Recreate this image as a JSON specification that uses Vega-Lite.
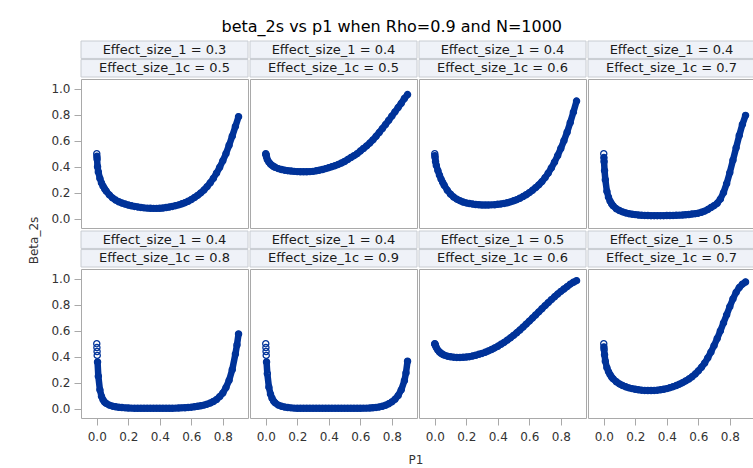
{
"$schema": "https://vega.github.io/schema/vega-lite/v6.json",
"background": "white",
"padding": {"left": 28, "top": 18, "right": 0, "bottom": 0},
"title": {"text": "beta_2s vs p1 when Rho=0.9 and N=1000", "anchor": "middle", "font": "DejaVu Sans", "fontSize": 16, "fontWeight": "normal", "color": "#000000", "offset": 6},
"datasets": {
"h": [
{"panel":1,"line":1,"label":"Effect_size_1 = 0.3"},{"panel":1,"line":2,"label":"Effect_size_1c = 0.5"},
{"panel":2,"line":1,"label":"Effect_size_1 = 0.4"},{"panel":2,"line":2,"label":"Effect_size_1c = 0.5"},
{"panel":3,"line":1,"label":"Effect_size_1 = 0.4"},{"panel":3,"line":2,"label":"Effect_size_1c = 0.6"},
{"panel":4,"line":1,"label":"Effect_size_1 = 0.4"},{"panel":4,"line":2,"label":"Effect_size_1c = 0.7"},
{"panel":5,"line":1,"label":"Effect_size_1 = 0.4"},{"panel":5,"line":2,"label":"Effect_size_1c = 0.8"},
{"panel":6,"line":1,"label":"Effect_size_1 = 0.4"},{"panel":6,"line":2,"label":"Effect_size_1c = 0.9"},
{"panel":7,"line":1,"label":"Effect_size_1 = 0.5"},{"panel":7,"line":2,"label":"Effect_size_1c = 0.6"},
{"panel":8,"line":1,"label":"Effect_size_1 = 0.5"},{"panel":8,"line":2,"label":"Effect_size_1c = 0.7"}
],
"d": [
{"panel":1,"p1":0,"beta":0.5},{"panel":1,"p1":0.001,"beta":0.48},{"panel":1,"p1":0.002,"beta":0.46},{"panel":1,"p1":0.005,"beta":0.4},{"panel":1,"p1":0.01,"beta":0.36},{"panel":1,"p1":0.02,"beta":0.31},{"panel":1,"p1":0.03,"beta":0.275},{"panel":1,"p1":0.04,"beta":0.25},{"panel":1,"p1":0.05,"beta":0.23},{"panel":1,"p1":0.06,"beta":0.212},{"panel":1,"p1":0.08,"beta":0.183},{"panel":1,"p1":0.1,"beta":0.16},{"panel":1,"p1":0.12,"beta":0.143},{"panel":1,"p1":0.14,"beta":0.13},{"panel":1,"p1":0.16,"beta":0.12},{"panel":1,"p1":0.18,"beta":0.112},{"panel":1,"p1":0.2,"beta":0.105},{"panel":1,"p1":0.22,"beta":0.099},{"panel":1,"p1":0.24,"beta":0.094},{"panel":1,"p1":0.26,"beta":0.09},{"panel":1,"p1":0.28,"beta":0.086},{"panel":1,"p1":0.3,"beta":0.083},{"panel":1,"p1":0.32,"beta":0.081},{"panel":1,"p1":0.34,"beta":0.08},{"panel":1,"p1":0.36,"beta":0.079},{"panel":1,"p1":0.38,"beta":0.079},{"panel":1,"p1":0.4,"beta":0.08},{"panel":1,"p1":0.42,"beta":0.082},{"panel":1,"p1":0.44,"beta":0.085},{"panel":1,"p1":0.46,"beta":0.089},{"panel":1,"p1":0.48,"beta":0.094},{"panel":1,"p1":0.5,"beta":0.1},{"panel":1,"p1":0.52,"beta":0.106},{"panel":1,"p1":0.54,"beta":0.114},{"panel":1,"p1":0.56,"beta":0.123},{"panel":1,"p1":0.58,"beta":0.134},{"panel":1,"p1":0.6,"beta":0.147},{"panel":1,"p1":0.62,"beta":0.162},{"panel":1,"p1":0.64,"beta":0.179},{"panel":1,"p1":0.66,"beta":0.198},{"panel":1,"p1":0.68,"beta":0.22},{"panel":1,"p1":0.7,"beta":0.246},{"panel":1,"p1":0.72,"beta":0.276},{"panel":1,"p1":0.74,"beta":0.31},{"panel":1,"p1":0.76,"beta":0.35},{"panel":1,"p1":0.78,"beta":0.395},{"panel":1,"p1":0.8,"beta":0.445},{"panel":1,"p1":0.82,"beta":0.5},{"panel":1,"p1":0.84,"beta":0.565},{"panel":1,"p1":0.86,"beta":0.635},{"panel":1,"p1":0.88,"beta":0.71},{"panel":1,"p1":0.9,"beta":0.785},
{"panel":2,"p1":0,"beta":0.5},{"panel":2,"p1":0.001,"beta":0.495},{"panel":2,"p1":0.002,"beta":0.49},{"panel":2,"p1":0.005,"beta":0.475},{"panel":2,"p1":0.01,"beta":0.455},{"panel":2,"p1":0.02,"beta":0.435},{"panel":2,"p1":0.03,"beta":0.42},{"panel":2,"p1":0.04,"beta":0.41},{"panel":2,"p1":0.05,"beta":0.401},{"panel":2,"p1":0.06,"beta":0.395},{"panel":2,"p1":0.08,"beta":0.385},{"panel":2,"p1":0.1,"beta":0.378},{"panel":2,"p1":0.12,"beta":0.373},{"panel":2,"p1":0.14,"beta":0.369},{"panel":2,"p1":0.16,"beta":0.366},{"panel":2,"p1":0.18,"beta":0.364},{"panel":2,"p1":0.2,"beta":0.362},{"panel":2,"p1":0.22,"beta":0.361},{"panel":2,"p1":0.24,"beta":0.361},{"panel":2,"p1":0.26,"beta":0.361},{"panel":2,"p1":0.28,"beta":0.362},{"panel":2,"p1":0.3,"beta":0.364},{"panel":2,"p1":0.32,"beta":0.368},{"panel":2,"p1":0.34,"beta":0.373},{"panel":2,"p1":0.36,"beta":0.378},{"panel":2,"p1":0.38,"beta":0.385},{"panel":2,"p1":0.4,"beta":0.392},{"panel":2,"p1":0.42,"beta":0.4},{"panel":2,"p1":0.44,"beta":0.408},{"panel":2,"p1":0.46,"beta":0.417},{"panel":2,"p1":0.48,"beta":0.428},{"panel":2,"p1":0.5,"beta":0.44},{"panel":2,"p1":0.52,"beta":0.455},{"panel":2,"p1":0.54,"beta":0.47},{"panel":2,"p1":0.56,"beta":0.485},{"panel":2,"p1":0.58,"beta":0.5},{"panel":2,"p1":0.6,"beta":0.52},{"panel":2,"p1":0.62,"beta":0.54},{"panel":2,"p1":0.64,"beta":0.56},{"panel":2,"p1":0.66,"beta":0.582},{"panel":2,"p1":0.68,"beta":0.606},{"panel":2,"p1":0.7,"beta":0.634},{"panel":2,"p1":0.72,"beta":0.663},{"panel":2,"p1":0.74,"beta":0.693},{"panel":2,"p1":0.76,"beta":0.724},{"panel":2,"p1":0.78,"beta":0.756},{"panel":2,"p1":0.8,"beta":0.789},{"panel":2,"p1":0.82,"beta":0.822},{"panel":2,"p1":0.84,"beta":0.855},{"panel":2,"p1":0.86,"beta":0.888},{"panel":2,"p1":0.88,"beta":0.925},{"panel":2,"p1":0.9,"beta":0.955},
{"panel":3,"p1":0,"beta":0.5},{"panel":3,"p1":0.001,"beta":0.485},{"panel":3,"p1":0.002,"beta":0.47},{"panel":3,"p1":0.005,"beta":0.44},{"panel":3,"p1":0.01,"beta":0.41},{"panel":3,"p1":0.02,"beta":0.37},{"panel":3,"p1":0.03,"beta":0.335},{"panel":3,"p1":0.04,"beta":0.305},{"panel":3,"p1":0.05,"beta":0.28},{"panel":3,"p1":0.06,"beta":0.257},{"panel":3,"p1":0.08,"beta":0.218},{"panel":3,"p1":0.1,"beta":0.188},{"panel":3,"p1":0.12,"beta":0.166},{"panel":3,"p1":0.14,"beta":0.15},{"panel":3,"p1":0.16,"beta":0.138},{"panel":3,"p1":0.18,"beta":0.128},{"panel":3,"p1":0.2,"beta":0.121},{"panel":3,"p1":0.22,"beta":0.116},{"panel":3,"p1":0.24,"beta":0.112},{"panel":3,"p1":0.26,"beta":0.109},{"panel":3,"p1":0.28,"beta":0.107},{"panel":3,"p1":0.3,"beta":0.105},{"panel":3,"p1":0.32,"beta":0.105},{"panel":3,"p1":0.34,"beta":0.105},{"panel":3,"p1":0.36,"beta":0.106},{"panel":3,"p1":0.38,"beta":0.107},{"panel":3,"p1":0.4,"beta":0.11},{"panel":3,"p1":0.42,"beta":0.113},{"panel":3,"p1":0.44,"beta":0.117},{"panel":3,"p1":0.46,"beta":0.122},{"panel":3,"p1":0.48,"beta":0.129},{"panel":3,"p1":0.5,"beta":0.137},{"panel":3,"p1":0.52,"beta":0.146},{"panel":3,"p1":0.54,"beta":0.157},{"panel":3,"p1":0.56,"beta":0.17},{"panel":3,"p1":0.58,"beta":0.184},{"panel":3,"p1":0.6,"beta":0.2},{"panel":3,"p1":0.62,"beta":0.218},{"panel":3,"p1":0.64,"beta":0.238},{"panel":3,"p1":0.66,"beta":0.26},{"panel":3,"p1":0.68,"beta":0.285},{"panel":3,"p1":0.7,"beta":0.315},{"panel":3,"p1":0.72,"beta":0.35},{"panel":3,"p1":0.74,"beta":0.39},{"panel":3,"p1":0.76,"beta":0.435},{"panel":3,"p1":0.78,"beta":0.485},{"panel":3,"p1":0.8,"beta":0.54},{"panel":3,"p1":0.82,"beta":0.6},{"panel":3,"p1":0.84,"beta":0.665},{"panel":3,"p1":0.86,"beta":0.74},{"panel":3,"p1":0.88,"beta":0.82},{"panel":3,"p1":0.9,"beta":0.905},
{"panel":4,"p1":0,"beta":0.5},{"panel":4,"p1":0.001,"beta":0.47},{"panel":4,"p1":0.002,"beta":0.44},{"panel":4,"p1":0.005,"beta":0.37},{"panel":4,"p1":0.01,"beta":0.3},{"panel":4,"p1":0.02,"beta":0.21},{"panel":4,"p1":0.03,"beta":0.165},{"panel":4,"p1":0.04,"beta":0.135},{"panel":4,"p1":0.05,"beta":0.114},{"panel":4,"p1":0.06,"beta":0.098},{"panel":4,"p1":0.08,"beta":0.076},{"panel":4,"p1":0.1,"beta":0.062},{"panel":4,"p1":0.12,"beta":0.052},{"panel":4,"p1":0.14,"beta":0.044},{"panel":4,"p1":0.16,"beta":0.038},{"panel":4,"p1":0.18,"beta":0.034},{"panel":4,"p1":0.2,"beta":0.031},{"panel":4,"p1":0.22,"beta":0.028},{"panel":4,"p1":0.24,"beta":0.026},{"panel":4,"p1":0.26,"beta":0.025},{"panel":4,"p1":0.28,"beta":0.024},{"panel":4,"p1":0.3,"beta":0.023},{"panel":4,"p1":0.32,"beta":0.023},{"panel":4,"p1":0.34,"beta":0.023},{"panel":4,"p1":0.36,"beta":0.023},{"panel":4,"p1":0.38,"beta":0.023},{"panel":4,"p1":0.4,"beta":0.024},{"panel":4,"p1":0.42,"beta":0.024},{"panel":4,"p1":0.44,"beta":0.025},{"panel":4,"p1":0.46,"beta":0.026},{"panel":4,"p1":0.48,"beta":0.027},{"panel":4,"p1":0.5,"beta":0.028},{"panel":4,"p1":0.52,"beta":0.03},{"panel":4,"p1":0.54,"beta":0.032},{"panel":4,"p1":0.56,"beta":0.035},{"panel":4,"p1":0.58,"beta":0.038},{"panel":4,"p1":0.6,"beta":0.042},{"panel":4,"p1":0.62,"beta":0.049},{"panel":4,"p1":0.64,"beta":0.058},{"panel":4,"p1":0.66,"beta":0.07},{"panel":4,"p1":0.68,"beta":0.085},{"panel":4,"p1":0.7,"beta":0.1},{"panel":4,"p1":0.72,"beta":0.118},{"panel":4,"p1":0.74,"beta":0.15},{"panel":4,"p1":0.76,"beta":0.2},{"panel":4,"p1":0.78,"beta":0.27},{"panel":4,"p1":0.8,"beta":0.355},{"panel":4,"p1":0.82,"beta":0.45},{"panel":4,"p1":0.84,"beta":0.545},{"panel":4,"p1":0.86,"beta":0.64},{"panel":4,"p1":0.88,"beta":0.725},{"panel":4,"p1":0.9,"beta":0.795},
{"panel":5,"p1":0,"beta":0.5},{"panel":5,"p1":0.001,"beta":0.47},{"panel":5,"p1":0.002,"beta":0.44},{"panel":5,"p1":0.003,"beta":0.41},{"panel":5,"p1":0.005,"beta":0.36},{"panel":5,"p1":0.01,"beta":0.25},{"panel":5,"p1":0.02,"beta":0.145},{"panel":5,"p1":0.03,"beta":0.095},{"panel":5,"p1":0.04,"beta":0.068},{"panel":5,"p1":0.05,"beta":0.05},{"panel":5,"p1":0.06,"beta":0.04},{"panel":5,"p1":0.08,"beta":0.027},{"panel":5,"p1":0.1,"beta":0.019},{"panel":5,"p1":0.12,"beta":0.014},{"panel":5,"p1":0.14,"beta":0.01},{"panel":5,"p1":0.16,"beta":0.008},{"panel":5,"p1":0.18,"beta":0.006},{"panel":5,"p1":0.2,"beta":0.005},{"panel":5,"p1":0.22,"beta":0.004},{"panel":5,"p1":0.24,"beta":0.003},{"panel":5,"p1":0.26,"beta":0.003},{"panel":5,"p1":0.28,"beta":0.003},{"panel":5,"p1":0.3,"beta":0.003},{"panel":5,"p1":0.32,"beta":0.003},{"panel":5,"p1":0.34,"beta":0.003},{"panel":5,"p1":0.36,"beta":0.003},{"panel":5,"p1":0.38,"beta":0.003},{"panel":5,"p1":0.4,"beta":0.003},{"panel":5,"p1":0.42,"beta":0.003},{"panel":5,"p1":0.44,"beta":0.003},{"panel":5,"p1":0.46,"beta":0.003},{"panel":5,"p1":0.48,"beta":0.003},{"panel":5,"p1":0.5,"beta":0.004},{"panel":5,"p1":0.52,"beta":0.005},{"panel":5,"p1":0.54,"beta":0.006},{"panel":5,"p1":0.56,"beta":0.007},{"panel":5,"p1":0.58,"beta":0.009},{"panel":5,"p1":0.6,"beta":0.011},{"panel":5,"p1":0.62,"beta":0.014},{"panel":5,"p1":0.64,"beta":0.018},{"panel":5,"p1":0.66,"beta":0.022},{"panel":5,"p1":0.68,"beta":0.027},{"panel":5,"p1":0.7,"beta":0.034},{"panel":5,"p1":0.72,"beta":0.043},{"panel":5,"p1":0.74,"beta":0.055},{"panel":5,"p1":0.76,"beta":0.07},{"panel":5,"p1":0.78,"beta":0.092},{"panel":5,"p1":0.8,"beta":0.12},{"panel":5,"p1":0.82,"beta":0.162},{"panel":5,"p1":0.84,"beta":0.218},{"panel":5,"p1":0.86,"beta":0.3},{"panel":5,"p1":0.88,"beta":0.42},{"panel":5,"p1":0.89,"beta":0.49},{"panel":5,"p1":0.9,"beta":0.575},
{"panel":6,"p1":0,"beta":0.5},{"panel":6,"p1":0.001,"beta":0.47},{"panel":6,"p1":0.002,"beta":0.44},{"panel":6,"p1":0.003,"beta":0.41},{"panel":6,"p1":0.005,"beta":0.36},{"panel":6,"p1":0.01,"beta":0.27},{"panel":6,"p1":0.02,"beta":0.165},{"panel":6,"p1":0.03,"beta":0.112},{"panel":6,"p1":0.04,"beta":0.08},{"panel":6,"p1":0.05,"beta":0.058},{"panel":6,"p1":0.06,"beta":0.044},{"panel":6,"p1":0.08,"beta":0.027},{"panel":6,"p1":0.1,"beta":0.018},{"panel":6,"p1":0.12,"beta":0.012},{"panel":6,"p1":0.14,"beta":0.008},{"panel":6,"p1":0.16,"beta":0.006},{"panel":6,"p1":0.18,"beta":0.004},{"panel":6,"p1":0.2,"beta":0.003},{"panel":6,"p1":0.22,"beta":0.003},{"panel":6,"p1":0.24,"beta":0.003},{"panel":6,"p1":0.26,"beta":0.003},{"panel":6,"p1":0.28,"beta":0.003},{"panel":6,"p1":0.3,"beta":0.003},{"panel":6,"p1":0.32,"beta":0.003},{"panel":6,"p1":0.34,"beta":0.003},{"panel":6,"p1":0.36,"beta":0.003},{"panel":6,"p1":0.38,"beta":0.003},{"panel":6,"p1":0.4,"beta":0.003},{"panel":6,"p1":0.42,"beta":0.003},{"panel":6,"p1":0.44,"beta":0.003},{"panel":6,"p1":0.46,"beta":0.003},{"panel":6,"p1":0.48,"beta":0.003},{"panel":6,"p1":0.5,"beta":0.003},{"panel":6,"p1":0.52,"beta":0.003},{"panel":6,"p1":0.54,"beta":0.003},{"panel":6,"p1":0.56,"beta":0.003},{"panel":6,"p1":0.58,"beta":0.003},{"panel":6,"p1":0.6,"beta":0.003},{"panel":6,"p1":0.62,"beta":0.004},{"panel":6,"p1":0.64,"beta":0.004},{"panel":6,"p1":0.66,"beta":0.005},{"panel":6,"p1":0.68,"beta":0.007},{"panel":6,"p1":0.7,"beta":0.009},{"panel":6,"p1":0.72,"beta":0.013},{"panel":6,"p1":0.74,"beta":0.018},{"panel":6,"p1":0.76,"beta":0.026},{"panel":6,"p1":0.78,"beta":0.037},{"panel":6,"p1":0.8,"beta":0.052},{"panel":6,"p1":0.82,"beta":0.072},{"panel":6,"p1":0.84,"beta":0.1},{"panel":6,"p1":0.86,"beta":0.145},{"panel":6,"p1":0.88,"beta":0.215},{"panel":6,"p1":0.89,"beta":0.275},{"panel":6,"p1":0.9,"beta":0.365},
{"panel":7,"p1":0,"beta":0.5},{"panel":7,"p1":0.001,"beta":0.497},{"panel":7,"p1":0.002,"beta":0.494},{"panel":7,"p1":0.005,"beta":0.485},{"panel":7,"p1":0.01,"beta":0.47},{"panel":7,"p1":0.02,"beta":0.45},{"panel":7,"p1":0.03,"beta":0.436},{"panel":7,"p1":0.04,"beta":0.426},{"panel":7,"p1":0.05,"beta":0.418},{"panel":7,"p1":0.06,"beta":0.412},{"panel":7,"p1":0.08,"beta":0.404},{"panel":7,"p1":0.1,"beta":0.399},{"panel":7,"p1":0.12,"beta":0.396},{"panel":7,"p1":0.14,"beta":0.394},{"panel":7,"p1":0.16,"beta":0.394},{"panel":7,"p1":0.18,"beta":0.395},{"panel":7,"p1":0.2,"beta":0.397},{"panel":7,"p1":0.22,"beta":0.4},{"panel":7,"p1":0.24,"beta":0.405},{"panel":7,"p1":0.26,"beta":0.411},{"panel":7,"p1":0.28,"beta":0.418},{"panel":7,"p1":0.3,"beta":0.425},{"panel":7,"p1":0.32,"beta":0.434},{"panel":7,"p1":0.34,"beta":0.444},{"panel":7,"p1":0.36,"beta":0.455},{"panel":7,"p1":0.38,"beta":0.467},{"panel":7,"p1":0.4,"beta":0.48},{"panel":7,"p1":0.42,"beta":0.495},{"panel":7,"p1":0.44,"beta":0.51},{"panel":7,"p1":0.46,"beta":0.527},{"panel":7,"p1":0.48,"beta":0.545},{"panel":7,"p1":0.5,"beta":0.564},{"panel":7,"p1":0.52,"beta":0.584},{"panel":7,"p1":0.54,"beta":0.605},{"panel":7,"p1":0.56,"beta":0.627},{"panel":7,"p1":0.58,"beta":0.65},{"panel":7,"p1":0.6,"beta":0.673},{"panel":7,"p1":0.62,"beta":0.697},{"panel":7,"p1":0.64,"beta":0.721},{"panel":7,"p1":0.66,"beta":0.745},{"panel":7,"p1":0.68,"beta":0.769},{"panel":7,"p1":0.7,"beta":0.793},{"panel":7,"p1":0.72,"beta":0.816},{"panel":7,"p1":0.74,"beta":0.839},{"panel":7,"p1":0.76,"beta":0.861},{"panel":7,"p1":0.78,"beta":0.882},{"panel":7,"p1":0.8,"beta":0.902},{"panel":7,"p1":0.82,"beta":0.921},{"panel":7,"p1":0.84,"beta":0.939},{"panel":7,"p1":0.86,"beta":0.958},{"panel":7,"p1":0.88,"beta":0.973},{"panel":7,"p1":0.9,"beta":0.985},
{"panel":8,"p1":0,"beta":0.5},{"panel":8,"p1":0.001,"beta":0.475},{"panel":8,"p1":0.002,"beta":0.455},{"panel":8,"p1":0.005,"beta":0.415},{"panel":8,"p1":0.01,"beta":0.365},{"panel":8,"p1":0.02,"beta":0.315},{"panel":8,"p1":0.03,"beta":0.285},{"panel":8,"p1":0.04,"beta":0.262},{"panel":8,"p1":0.05,"beta":0.243},{"panel":8,"p1":0.06,"beta":0.229},{"panel":8,"p1":0.08,"beta":0.207},{"panel":8,"p1":0.1,"beta":0.19},{"panel":8,"p1":0.12,"beta":0.178},{"panel":8,"p1":0.14,"beta":0.168},{"panel":8,"p1":0.16,"beta":0.16},{"panel":8,"p1":0.18,"beta":0.154},{"panel":8,"p1":0.2,"beta":0.149},{"panel":8,"p1":0.22,"beta":0.145},{"panel":8,"p1":0.24,"beta":0.142},{"panel":8,"p1":0.26,"beta":0.14},{"panel":8,"p1":0.28,"beta":0.139},{"panel":8,"p1":0.3,"beta":0.139},{"panel":8,"p1":0.32,"beta":0.14},{"panel":8,"p1":0.34,"beta":0.142},{"panel":8,"p1":0.36,"beta":0.145},{"panel":8,"p1":0.38,"beta":0.149},{"panel":8,"p1":0.4,"beta":0.154},{"panel":8,"p1":0.42,"beta":0.161},{"panel":8,"p1":0.44,"beta":0.169},{"panel":8,"p1":0.46,"beta":0.178},{"panel":8,"p1":0.48,"beta":0.188},{"panel":8,"p1":0.5,"beta":0.2},{"panel":8,"p1":0.52,"beta":0.213},{"panel":8,"p1":0.54,"beta":0.228},{"panel":8,"p1":0.56,"beta":0.245},{"panel":8,"p1":0.58,"beta":0.266},{"panel":8,"p1":0.6,"beta":0.29},{"panel":8,"p1":0.62,"beta":0.318},{"panel":8,"p1":0.64,"beta":0.35},{"panel":8,"p1":0.66,"beta":0.39},{"panel":8,"p1":0.68,"beta":0.435},{"panel":8,"p1":0.7,"beta":0.485},{"panel":8,"p1":0.72,"beta":0.54},{"panel":8,"p1":0.74,"beta":0.598},{"panel":8,"p1":0.76,"beta":0.66},{"panel":8,"p1":0.78,"beta":0.722},{"panel":8,"p1":0.8,"beta":0.785},{"panel":8,"p1":0.82,"beta":0.845},{"panel":8,"p1":0.84,"beta":0.895},{"panel":8,"p1":0.86,"beta":0.932},{"panel":8,"p1":0.88,"beta":0.958},{"panel":8,"p1":0.9,"beta":0.975}
]
},
"data": {"name": "d"},
"spacing": 10,
"hconcat": [
{"data": {"values": [{"label": "Beta_2s"}]}, "width": 12, "height": 399, "view": {"stroke": null},
 "mark": {"type": "text", "angle": 270, "font": "DejaVu Sans", "fontSize": 12, "color": "#333333"},
 "encoding": {"text": {"field": "label"}}},
{"spacing": 10, "vconcat": [
{"spacing": 1, "vconcat": [
{"hconcat": [
 {"spacing": 0, "vconcat": [
  {"data": {"name": "h"}, "transform": [{"filter": "datum.panel == 1"}], "width": 167, "height": 36, "view": {"stroke": null},
   "encoding": {"y": {"field": "line", "type": "ordinal", "axis": null, "scale": {"paddingInner": 0.06, "paddingOuter": 0}}},
   "layer": [{"mark": {"type": "rect", "fill": "#eff2f8", "stroke": "#c8ccd2", "strokeWidth": 1}},
             {"mark": {"type": "text", "font": "DejaVu Sans", "fontSize": 13, "color": "#1a1a1a"}, "encoding": {"text": {"field": "label"}}}]},
  {"transform": [{"filter": "datum.panel == 1"}], "width": 167, "height": 149,
   "encoding": {"x": {"field": "p1", "type": "quantitative", "scale": {"domain": [-0.1, 0.96], "nice": false, "zero": false}, "axis": null},
                "y": {"field": "beta", "type": "quantitative", "scale": {"domain": [-0.072, 1.075], "nice": false, "zero": false}, "axis": {"values": [0, 0.2, 0.4, 0.6, 0.8, 1], "format": ".1f", "title": null}}},
   "layer": [{"transform": [{"filter": "datum.p1 > 0"}], "mark": {"type": "line", "color": "#003399", "strokeWidth": 6.5, "strokeCap": "round", "strokeJoin": "round"}},
             {"mark": {"type": "point", "shape": "circle", "filled": false, "color": "#003399", "size": 38, "strokeWidth": 1.3, "opacity": 1}}]}
 ]},
 {"spacing": 0, "vconcat": [
  {"data": {"name": "h"}, "transform": [{"filter": "datum.panel == 2"}], "width": 167, "height": 36, "view": {"stroke": null},
   "encoding": {"y": {"field": "line", "type": "ordinal", "axis": null, "scale": {"paddingInner": 0.06, "paddingOuter": 0}}},
   "layer": [{"mark": {"type": "rect", "fill": "#eff2f8", "stroke": "#c8ccd2", "strokeWidth": 1}},
             {"mark": {"type": "text", "font": "DejaVu Sans", "fontSize": 13, "color": "#1a1a1a"}, "encoding": {"text": {"field": "label"}}}]},
  {"transform": [{"filter": "datum.panel == 2"}], "width": 167, "height": 149,
   "encoding": {"x": {"field": "p1", "type": "quantitative", "scale": {"domain": [-0.1, 0.96], "nice": false, "zero": false}, "axis": null},
                "y": {"field": "beta", "type": "quantitative", "scale": {"domain": [-0.072, 1.075], "nice": false, "zero": false}, "axis": null}},
   "layer": [{"transform": [{"filter": "datum.p1 > 0"}], "mark": {"type": "line", "color": "#003399", "strokeWidth": 6.5, "strokeCap": "round", "strokeJoin": "round"}},
             {"mark": {"type": "point", "shape": "circle", "filled": false, "color": "#003399", "size": 38, "strokeWidth": 1.3, "opacity": 1}}]}
 ]},
 {"spacing": 0, "vconcat": [
  {"data": {"name": "h"}, "transform": [{"filter": "datum.panel == 3"}], "width": 167, "height": 36, "view": {"stroke": null},
   "encoding": {"y": {"field": "line", "type": "ordinal", "axis": null, "scale": {"paddingInner": 0.06, "paddingOuter": 0}}},
   "layer": [{"mark": {"type": "rect", "fill": "#eff2f8", "stroke": "#c8ccd2", "strokeWidth": 1}},
             {"mark": {"type": "text", "font": "DejaVu Sans", "fontSize": 13, "color": "#1a1a1a"}, "encoding": {"text": {"field": "label"}}}]},
  {"transform": [{"filter": "datum.panel == 3"}], "width": 167, "height": 149,
   "encoding": {"x": {"field": "p1", "type": "quantitative", "scale": {"domain": [-0.1, 0.96], "nice": false, "zero": false}, "axis": null},
                "y": {"field": "beta", "type": "quantitative", "scale": {"domain": [-0.072, 1.075], "nice": false, "zero": false}, "axis": null}},
   "layer": [{"transform": [{"filter": "datum.p1 > 0"}], "mark": {"type": "line", "color": "#003399", "strokeWidth": 6.5, "strokeCap": "round", "strokeJoin": "round"}},
             {"mark": {"type": "point", "shape": "circle", "filled": false, "color": "#003399", "size": 38, "strokeWidth": 1.3, "opacity": 1}}]}
 ]},
 {"spacing": 0, "vconcat": [
  {"data": {"name": "h"}, "transform": [{"filter": "datum.panel == 4"}], "width": 167, "height": 36, "view": {"stroke": null},
   "encoding": {"y": {"field": "line", "type": "ordinal", "axis": null, "scale": {"paddingInner": 0.06, "paddingOuter": 0}}},
   "layer": [{"mark": {"type": "rect", "fill": "#eff2f8", "stroke": "#c8ccd2", "strokeWidth": 1}},
             {"mark": {"type": "text", "font": "DejaVu Sans", "fontSize": 13, "color": "#1a1a1a"}, "encoding": {"text": {"field": "label"}}}]},
  {"transform": [{"filter": "datum.panel == 4"}], "width": 167, "height": 149,
   "encoding": {"x": {"field": "p1", "type": "quantitative", "scale": {"domain": [-0.1, 0.96], "nice": false, "zero": false}, "axis": null},
                "y": {"field": "beta", "type": "quantitative", "scale": {"domain": [-0.072, 1.075], "nice": false, "zero": false}, "axis": null}},
   "layer": [{"transform": [{"filter": "datum.p1 > 0"}], "mark": {"type": "line", "color": "#003399", "strokeWidth": 6.5, "strokeCap": "round", "strokeJoin": "round"}},
             {"mark": {"type": "point", "shape": "circle", "filled": false, "color": "#003399", "size": 38, "strokeWidth": 1.3, "opacity": 1}}]}
 ]}
], "spacing": 0},
{"hconcat": [
 {"spacing": 0, "vconcat": [
  {"data": {"name": "h"}, "transform": [{"filter": "datum.panel == 5"}], "width": 167, "height": 36, "view": {"stroke": null},
   "encoding": {"y": {"field": "line", "type": "ordinal", "axis": null, "scale": {"paddingInner": 0.06, "paddingOuter": 0}}},
   "layer": [{"mark": {"type": "rect", "fill": "#eff2f8", "stroke": "#c8ccd2", "strokeWidth": 1}},
             {"mark": {"type": "text", "font": "DejaVu Sans", "fontSize": 13, "color": "#1a1a1a"}, "encoding": {"text": {"field": "label"}}}]},
  {"transform": [{"filter": "datum.panel == 5"}], "width": 167, "height": 149,
   "encoding": {"x": {"field": "p1", "type": "quantitative", "scale": {"domain": [-0.1, 0.96], "nice": false, "zero": false}, "axis": {"values": [0, 0.2, 0.4, 0.6, 0.8], "format": ".1f", "title": null}},
                "y": {"field": "beta", "type": "quantitative", "scale": {"domain": [-0.072, 1.075], "nice": false, "zero": false}, "axis": {"values": [0, 0.2, 0.4, 0.6, 0.8, 1], "format": ".1f", "title": null}}},
   "layer": [{"transform": [{"filter": "datum.p1 >= 0.004"}], "mark": {"type": "line", "color": "#003399", "strokeWidth": 6.5, "strokeCap": "round", "strokeJoin": "round"}},
             {"mark": {"type": "point", "shape": "circle", "filled": false, "color": "#003399", "size": 38, "strokeWidth": 1.3, "opacity": 1}}]}
 ]},
 {"spacing": 0, "vconcat": [
  {"data": {"name": "h"}, "transform": [{"filter": "datum.panel == 6"}], "width": 167, "height": 36, "view": {"stroke": null},
   "encoding": {"y": {"field": "line", "type": "ordinal", "axis": null, "scale": {"paddingInner": 0.06, "paddingOuter": 0}}},
   "layer": [{"mark": {"type": "rect", "fill": "#eff2f8", "stroke": "#c8ccd2", "strokeWidth": 1}},
             {"mark": {"type": "text", "font": "DejaVu Sans", "fontSize": 13, "color": "#1a1a1a"}, "encoding": {"text": {"field": "label"}}}]},
  {"transform": [{"filter": "datum.panel == 6"}], "width": 167, "height": 149,
   "encoding": {"x": {"field": "p1", "type": "quantitative", "scale": {"domain": [-0.1, 0.96], "nice": false, "zero": false}, "axis": {"values": [0, 0.2, 0.4, 0.6, 0.8], "format": ".1f", "title": null}},
                "y": {"field": "beta", "type": "quantitative", "scale": {"domain": [-0.072, 1.075], "nice": false, "zero": false}, "axis": null}},
   "layer": [{"transform": [{"filter": "datum.p1 >= 0.004"}], "mark": {"type": "line", "color": "#003399", "strokeWidth": 6.5, "strokeCap": "round", "strokeJoin": "round"}},
             {"mark": {"type": "point", "shape": "circle", "filled": false, "color": "#003399", "size": 38, "strokeWidth": 1.3, "opacity": 1}}]}
 ]},
 {"spacing": 0, "vconcat": [
  {"data": {"name": "h"}, "transform": [{"filter": "datum.panel == 7"}], "width": 167, "height": 36, "view": {"stroke": null},
   "encoding": {"y": {"field": "line", "type": "ordinal", "axis": null, "scale": {"paddingInner": 0.06, "paddingOuter": 0}}},
   "layer": [{"mark": {"type": "rect", "fill": "#eff2f8", "stroke": "#c8ccd2", "strokeWidth": 1}},
             {"mark": {"type": "text", "font": "DejaVu Sans", "fontSize": 13, "color": "#1a1a1a"}, "encoding": {"text": {"field": "label"}}}]},
  {"transform": [{"filter": "datum.panel == 7"}], "width": 167, "height": 149,
   "encoding": {"x": {"field": "p1", "type": "quantitative", "scale": {"domain": [-0.1, 0.96], "nice": false, "zero": false}, "axis": {"values": [0, 0.2, 0.4, 0.6, 0.8], "format": ".1f", "title": null}},
                "y": {"field": "beta", "type": "quantitative", "scale": {"domain": [-0.072, 1.075], "nice": false, "zero": false}, "axis": null}},
   "layer": [{"transform": [{"filter": "datum.p1 > 0"}], "mark": {"type": "line", "color": "#003399", "strokeWidth": 6.5, "strokeCap": "round", "strokeJoin": "round"}},
             {"mark": {"type": "point", "shape": "circle", "filled": false, "color": "#003399", "size": 38, "strokeWidth": 1.3, "opacity": 1}}]}
 ]},
 {"spacing": 0, "vconcat": [
  {"data": {"name": "h"}, "transform": [{"filter": "datum.panel == 8"}], "width": 167, "height": 36, "view": {"stroke": null},
   "encoding": {"y": {"field": "line", "type": "ordinal", "axis": null, "scale": {"paddingInner": 0.06, "paddingOuter": 0}}},
   "layer": [{"mark": {"type": "rect", "fill": "#eff2f8", "stroke": "#c8ccd2", "strokeWidth": 1}},
             {"mark": {"type": "text", "font": "DejaVu Sans", "fontSize": 13, "color": "#1a1a1a"}, "encoding": {"text": {"field": "label"}}}]},
  {"transform": [{"filter": "datum.panel == 8"}], "width": 167, "height": 149,
   "encoding": {"x": {"field": "p1", "type": "quantitative", "scale": {"domain": [-0.1, 0.96], "nice": false, "zero": false}, "axis": {"values": [0, 0.2, 0.4, 0.6, 0.8], "format": ".1f", "title": null}},
                "y": {"field": "beta", "type": "quantitative", "scale": {"domain": [-0.072, 1.075], "nice": false, "zero": false}, "axis": null}},
   "layer": [{"transform": [{"filter": "datum.p1 > 0"}], "mark": {"type": "line", "color": "#003399", "strokeWidth": 6.5, "strokeCap": "round", "strokeJoin": "round"}},
             {"mark": {"type": "point", "shape": "circle", "filled": false, "color": "#003399", "size": 38, "strokeWidth": 1.3, "opacity": 1}}]}
 ]}
], "spacing": 0}
]},
{"data": {"values": [{"label": "P1"}]}, "width": 670, "height": 14, "view": {"stroke": null},
 "mark": {"type": "text", "font": "DejaVu Sans", "fontSize": 12, "color": "#333333"},
 "encoding": {"text": {"field": "label"}}}
]}
],
"config": {
 "view": {"stroke": "#a9a9a9"},
 "axis": {"domain": false, "grid": false, "tickColor": "#a9a9a9", "tickSize": 7, "labelFont": "DejaVu Sans", "labelFontSize": 12, "labelColor": "#333333", "titleFont": "DejaVu Sans", "titleFontSize": 12, "titleFontWeight": "normal", "titleColor": "#333333"},
 "axisX": {"labelPadding": 6},
 "axisY": {"labelPadding": 4}
}
}
